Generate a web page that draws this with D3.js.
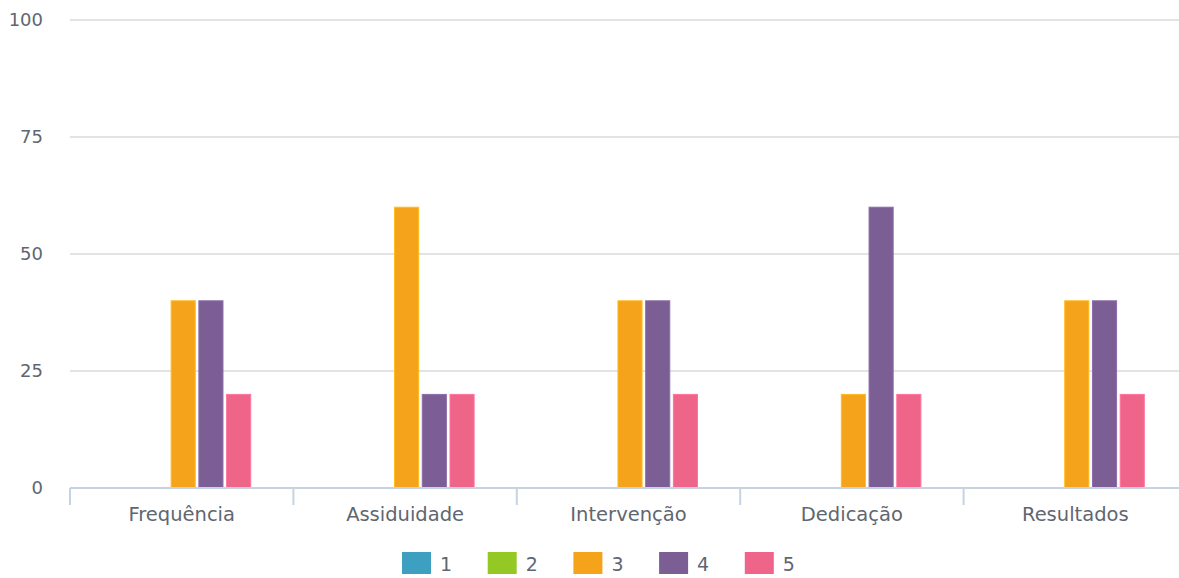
<!DOCTYPE html>
<html>
<head>
<meta charset="utf-8">
<script src="https://cdn.jsdelivr.net/npm/d3@7"></script>
<style>
  body { margin: 0; background: #fff; overflow: hidden; }
  text { font-family: "DejaVu Sans", Verdana, sans-serif; fill: #5f6670; }
</style>
</head>
<body>
<div id="chart"></div>
<script>
/* DATA */
const categories = ["Frequência", "Assiduidade", "Intervenção", "Dedicação", "Resultados"];
const seriesNames = ["1", "2", "3", "4", "5"];
const seriesColors = ["#3ea0c0", "#94c925", "#f5a31a", "#7b5e94", "#ef6489"];
const s1 = [0, 0, 0, 0, 0];
const s2 = [0, 0, 0, 0, 0];
const s3 = [40, 60, 40, 20, 40];
const s4 = [40, 20, 40, 60, 40];
const s5 = [20, 20, 20, 20, 20];
const yTicks = [0, 25, 50, 75, 100];

const seriesValues = [s1, s2, s3, s4, s5];

const width = 1179, height = 578;
const margin = { top: 20, left: 70, bottom: 90 };
const plotRight = 1187; // last band runs slightly past the window edge

const svg = d3.select("#chart").append("svg")
  .attr("width", width)
  .attr("height", height);

// SCALES
const x0 = d3.scaleBand().domain(categories).range([margin.left, plotRight]).padding(0);
const groupW = 135;
const x1 = d3.scaleBand().domain(seriesNames)
  .range([(x0.bandwidth() - groupW) / 2 + 1.5, (x0.bandwidth() + groupW) / 2 + 1.5])
  .paddingInner(0.13);
const y = d3.scaleLinear().domain([0, 100]).range([height - margin.bottom, margin.top]);

// GRID
svg.append("g")
  .selectAll("line")
  .data(yTicks.filter(d => d > 0))
  .join("line")
  .attr("x1", margin.left).attr("x2", width)
  .attr("y1", d => y(d)).attr("y2", d => y(d))
  .attr("stroke", "#e3e3e3")
  .attr("stroke-width", 2);

// Y LABELS
svg.append("g")
  .selectAll("text")
  .data(yTicks)
  .join("text")
  .attr("x", 43)
  .attr("y", d => y(d))
  .attr("dy", "0.35em")
  .attr("text-anchor", "end")
  .attr("font-size", 18)
  .text(d => d);

// BARS
const rows = categories.map((c, i) => ({ cat: c, vals: seriesNames.map((s, j) => ({ s, j, v: seriesValues[j][i] })) }));
svg.append("g")
  .selectAll("g")
  .data(rows)
  .join("g")
  .attr("transform", d => `translate(${x0(d.cat)},0)`)
  .selectAll("rect")
  .data(d => d.vals.filter(e => e.v > 0))
  .join("rect")
  .attr("x", d => x1(d.s))
  .attr("width", x1.bandwidth())
  .attr("y", d => y(d.v))
  .attr("height", d => y(0) - y(d.v))
  .attr("fill", d => seriesColors[d.j])
  .attr("stroke", d => d3.color(seriesColors[d.j]).brighter(0.4))
  .attr("stroke-width", 1);

// X AXIS
const xAxis = svg.append("g").attr("transform", `translate(0,${y(0)})`);
xAxis.append("line")
  .attr("x1", margin.left).attr("x2", width)
  .attr("stroke", "#c5d3e3").attr("stroke-width", 2);
xAxis.selectAll("line.tick")
  .data(categories)
  .join("line")
  .attr("class", "tick")
  .attr("x1", d => x0(d)).attr("x2", d => x0(d))
  .attr("y1", 0).attr("y2", 17)
  .attr("stroke", "#c5d3e3").attr("stroke-width", 2);
xAxis.selectAll("text")
  .data(categories)
  .join("text")
  .attr("x", d => x0(d) + x0.bandwidth() / 2)
  .attr("y", 33)
  .attr("text-anchor", "middle")
  .attr("font-size", 19.5)
  .text(d => d);

// LEGEND
const legend = svg.append("g").attr("transform", "translate(402,552)");
const item = legend.selectAll("g")
  .data(seriesNames)
  .join("g")
  .attr("transform", (d, i) => `translate(${i * 85.7},0)`);
item.append("rect")
  .attr("width", 29).attr("height", 22)
  .attr("fill", (d, i) => seriesColors[i]);
item.append("text")
  .attr("x", 38).attr("y", 19)
  .attr("font-size", 19)
  .text(d => d);
</script>
</body>
</html>
